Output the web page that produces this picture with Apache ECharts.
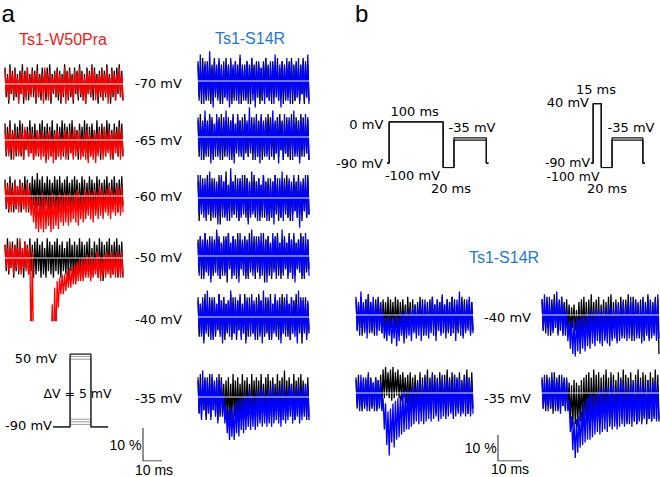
<!DOCTYPE html>
<html><head><meta charset="utf-8">
<script src="https://cdn.jsdelivr.net/npm/echarts/dist/echarts.min.js"></script>
<style>html,body{margin:0;padding:0;background:#fff}#c{width:660px;height:477px}</style>
</head><body><div id="c"></div>
<script>
// ---------- DATA (percent change, envelope of each noisy trace: upper / lower values per sample) ----------
const labelsA = ['-70 mV','-65 mV','-60 mV','-50 mV','-40 mV','-35 mV'];
const labelsB = ['-40 mV','-35 mV'];
const titleRed = 'Ts1-W50Pra';
const titleBlue = 'Ts1-S14R';
const baselineValue = 0;

// Panel a, left column (black / red)
const aL70_kHi=[5,3,6,4,5,3,4,6,4,5,3,5, 4,6,3,5,4,5,6,3,4,5,4,3, 6,4,5,3,5,4,6,4,3,5,4,6, 5,3,4,5,4,6,3,5,4,5,6,4];
const aL70_kLo=[-4,-6,-3,-5,-4,-5,-3,-6,-4,-5,-3,-4, -6,-4,-5,-3,-5,-4,-6,-3,-4,-5,-6,-4, -3,-5,-4,-6,-3,-5,-4,-5,-6,-3,-4,-5, -3,-6,-4,-5,-4,-3,-6,-4,-5,-3,-4,-5];
const aL70_cHi=[4,2,5,3,4,2,3,4,3,5,2,4, 3,4,2,3,5,3,4,2,3,4,3,2, 5,3,4,2,4,3,5,3,2,4,3,5, 4,2,3,4,3,5,2,4,3,3,5,3];
const aL70_cLo=[-3,-5,-2,-4,-3,-6,-3,-4,-5,-3,-4,-2, -5,-4,-3,-6,-3,-5,-4,-2,-4,-3,-5,-3, -6,-4,-3,-5,-2,-4,-3,-5,-6,-3,-4,-2, -5,-4,-3,-5,-3,-6,-4,-3,-5,-2,-4,-5];

const aL65_kHi=[5,4,6,3,5,4,6,5,3,4,6,4, 5,3,5,6,4,5,4,6,3,5,4,6, 5,4,5,6,4,3,5,4,6,5,4,5, 3,6,4,5,4,6,5,3,5,4,6,5];
const aL65_kLo=[-5,-4,-6,-3,-5,-4,-5,-6,-3,-5,-4,-6, -4,-5,-3,-5,-6,-4,-5,-4,-6,-5,-3,-5, -4,-6,-4,-5,-3,-6,-4,-5,-4,-6,-5,-3, -5,-4,-6,-4,-5,-3,-5,-6,-4,-5,-4,-5];
const aL65_cHi=[3,2,4,2,3,1,3,2,4,2,3,2, 1,3,2,3,1,2,3,1,2,3,2,1, 3,2,3,2,4,2,3,1,2,3,2,1, 3,2,3,2,4,2,3,2,3,2,4,3];
const aL65_cLo=[-4,-5,-3,-6,-4,-5,-4,-6,-3,-5,-4,-6, -5,-4,-6,-5,-7,-6,-5,-7,-6,-5,-6,-4, -6,-5,-4,-6,-5,-4,-6,-5,-6,-7,-5,-6, -7,-5,-4,-6,-5,-4,-6,-5,-4,-5,-6,-4];

const aL60_kHi=[5,4,6,4,5,3,5,4,6,5,4,6, 5,7,5,6,4,6,5,4,6,5,6,4, 5,6,4,5,6,5,4,6,5,4,6,5, 4,6,5,4,5,6,4,5,6,4,5,6];
const aL60_kLo=[-4,-5,-3,-5,-4,-3,-5,-4,-3,-5,-4,-3, -4,-3,-5,-4,-3,-4,-5,-3,-4,-5,-3,-4, -4,-3,-5,-4,-3,-5,-4,-3,-5,-4,-3,-4, -5,-3,-4,-5,-4,-3,-5,-4,-3,-5,-4,-3];
const aL60_cHi=[4,3,4,2,4,3,4,3,2,4,2,0, -1,0,-1,1,0,-1,0,1,0,-1,1,0, 1,0,1,0,1,2,1,0,2,1,2,1, 2,1,3,2,1,2,3,2,1,3,2,3];
const aL60_cLo=[-3,-4,-5,-3,-4,-5,-3,-4,-5,-4,-6,-8, -10,-11,-10,-11,-10,-9,-11,-10,-9,-10,-8,-9, -8,-9,-8,-7,-8,-9,-7,-8,-7,-6,-7,-8, -6,-7,-6,-7,-5,-6,-7,-5,-6,-5,-6,-5];

const aL50_kHi=[4,6,3,5,4,6,5,3,5,4,6,4, 5,6,4,5,3,6,5,4,5,6,4,5, 3,5,6,4,5,4,6,5,4,5,6,3, 5,4,6,5,4,5,6,4,5,6,4,5];
const aL50_kLo=[-4,-5,-3,-6,-4,-5,-4,-6,-3,-5,-4,-6, -5,-4,-6,-5,-6,-4,-5,-6,-4,-5,-6,-4, -5,-6,-4,-5,-7,-5,-4,-6,-5,-4,-6,-5, -4,-6,-5,-7,-5,-4,-6,-5,-4,-6,-5,-6];
const aL50_cHi=[4,3,5,3,4,3,6,3,5,3,4,2, -25,-25,-25,-25,-25,-25,-25,-14,-9,-7,-6,-5, -5,-4,-3,-3,-2,-1,-1,0,0,1,0,1, 0,2,1,0,1,2,1,2,1,2,1,2];
const aL50_cLo=[-3,-4,-3,-5,-3,-4,-5,-3,-4,-5,-30,-30, -30,-30,-30,-30,-30,-30,-30,-30,-25,-15,-11,-11, -10,-9,-9,-8,-8,-7,-7,-7,-6,-6,-7,-6, -5,-6,-7,-5,-6,-5,-6,-5,-6,-5,-6,-5];

// Panel a, right column (black / blue)
const aR70_kHi=[6,4,7,5,6,4,5,7,4,6,5,4, 7,5,6,4,6,5,7,4,5,6,4,7, 5,6,5,4,6,7,5,4,6,5,7,4, 6,5,4,6,7,5,6,4,5,7,6,5];
const aR70_kLo=[-5,-7,-4,-6,-5,-7,-6,-4,-5,-7,-6,-5, -4,-6,-7,-5,-6,-4,-7,-5,-6,-5,-7,-4, -6,-5,-7,-6,-4,-5,-6,-7,-5,-4,-6,-5, -7,-6,-5,-4,-7,-6,-5,-6,-4,-7,-5,-6];
const aR70_cHi=[5,8,4,6,5,9,4,6,5,7,4,6, 5,4,7,5,6,4,8,5,4,6,5,7, 4,5,6,4,5,7,4,6,5,8,4,5, 6,4,7,5,6,4,5,7,4,6,5,8];
const aR70_cLo=[-6,-4,-7,-5,-6,-4,-8,-5,-6,-4,-7,-5, -6,-8,-4,-6,-5,-7,-4,-6,-5,-7,-4,-6, -8,-5,-4,-6,-7,-5,-6,-4,-7,-5,-6,-8, -4,-5,-6,-7,-4,-6,-5,-7,-4,-6,-5,-7];

const aR65_kHi=[5,7,4,6,5,7,6,4,5,6,7,5, 4,6,5,7,4,6,5,6,7,4,5,6, 4,7,5,6,4,5,7,6,4,5,6,7, 5,4,6,5,7,4,6,5,7,6,4,6];
const aR65_kLo=[-6,-4,-7,-5,-6,-5,-7,-4,-6,-5,-7,-6, -4,-5,-7,-6,-5,-4,-6,-7,-5,-6,-4,-7, -5,-6,-4,-7,-6,-5,-4,-6,-7,-5,-6,-4, -7,-5,-6,-7,-4,-6,-5,-7,-6,-4,-5,-7];
const aR65_cHi=[6,4,5,8,4,6,5,4,7,5,4,6, 8,4,5,6,4,7,5,4,6,5,9,4, 6,5,4,7,5,6,4,5,8,4,6,5, 4,7,4,6,5,8,4,5,6,4,7,5];
const aR65_cLo=[-4,-7,-5,-6,-4,-8,-5,-6,-4,-7,-5,-4, -6,-7,-5,-8,-4,-6,-5,-7,-4,-6,-5,-4, -7,-6,-8,-4,-5,-6,-7,-4,-6,-5,-8,-4, -7,-5,-6,-4,-7,-5,-6,-8,-4,-6,-5,-7];

const aR60_kHi=[7,5,6,4,7,5,6,5,4,7,6,5, 8,4,6,5,7,4,6,5,7,6,4,5, 7,5,6,4,7,5,6,4,5,7,6,4, 5,6,7,5,4,6,5,7,4,6,5,7];
const aR60_kLo=[-7,-5,-4,-6,-5,-7,-4,-6,-5,-8,-4,-6, -5,-7,-4,-5,-6,-7,-5,-4,-6,-7,-5,-4, -6,-5,-7,-4,-6,-5,-7,-6,-4,-5,-7,-6, -4,-5,-6,-7,-5,-4,-6,-5,-7,-4,-6,-5];
const aR60_cHi=[5,7,4,6,5,8,4,6,5,4,7,5, 6,4,9,5,4,6,5,7,4,6,5,8, 4,5,6,4,7,5,4,6,5,7,4,6, 8,5,4,6,5,7,4,6,5,4,7,6];
const aR60_cLo=[-5,-4,-6,-7,-5,-4,-6,-5,-8,-4,-6,-5, -7,-4,-6,-5,-4,-7,-6,-5,-4,-8,-6,-5, -4,-7,-5,-6,-4,-7,-5,-6,-8,-4,-5,-6, -7,-4,-6,-5,-7,-4,-6,-9,-5,-4,-6,-5];

const aR50_kHi=[5,6,4,7,5,6,4,5,7,6,4,5, 6,7,4,6,5,7,5,4,6,5,7,4, 6,5,6,4,7,5,6,4,5,6,7,4, 5,6,4,7,5,6,4,5,7,6,4,5];
const aR50_kLo=[-5,-7,-6,-4,-5,-7,-6,-5,-4,-7,-6,-5, -8,-4,-6,-5,-7,-6,-4,-5,-7,-6,-5,-4, -7,-5,-6,-4,-8,-5,-6,-7,-4,-5,-6,-7, -5,-4,-6,-5,-7,-6,-4,-5,-7,-6,-5,-4];
const aR50_cHi=[4,6,5,7,4,5,6,4,8,5,4,6, 5,7,4,6,5,4,7,5,6,4,5,8, 4,6,5,7,4,5,6,4,7,5,6,4, 8,5,4,6,5,7,4,5,6,4,7,5];
const aR50_cLo=[-6,-4,-7,-5,-6,-8,-4,-5,-6,-7,-4,-6, -5,-4,-7,-6,-5,-8,-4,-6,-5,-7,-4,-6, -5,-4,-7,-6,-5,-8,-4,-6,-5,-7,-4,-5, -6,-4,-7,-5,-6,-8,-4,-5,-6,-7,-4,-6];

const aR40_kHi=[6,4,5,7,4,6,5,6,4,7,5,6, 4,5,7,6,4,5,6,4,7,5,6,5, 4,6,7,5,4,6,5,7,4,6,5,4, 7,6,5,4,6,5,7,4,6,5,6,4];
const aR40_kLo=[-6,-5,-7,-4,-6,-5,-7,-6,-4,-5,-6,-7, -5,-4,-6,-5,-7,-4,-6,-5,-7,-6,-4,-5, -6,-7,-5,-4,-6,-5,-7,-6,-4,-5,-7,-6, -5,-4,-6,-7,-5,-4,-6,-5,-8,-4,-6,-5];
const aR40_cHi=[5,4,6,5,8,4,6,5,4,7,5,6, 4,5,8,4,6,5,7,4,5,6,4,7, 5,4,6,5,8,4,6,5,4,7,5,6, 4,5,7,4,6,5,4,8,5,6,4,5];
const aR40_cLo=[-4,-6,-8,-5,-4,-7,-6,-5,-4,-6,-8,-5, -4,-6,-7,-5,-6,-4,-7,-5,-8,-4,-6,-5, -7,-4,-6,-8,-5,-4,-6,-7,-5,-6,-4,-8, -5,-6,-4,-7,-5,-6,-8,-4,-6,-5,-7,-4];

const aR35_kHi=[5,7,4,6,5,7,6,4,5,7,6,4, 5,6,4,7,5,6,4,7,5,6,4,7, 5,6,5,7,4,6,7,5,6,4,7,5, 6,8,5,6,4,7,5,6,7,5,4,6];
const aR35_kLo=[-5,-6,-4,-7,-5,-6,-4,-5,-7,-6,-5,-6, -7,-8,-7,-6,-7,-6,-5,-7,-6,-5,-7,-6, -5,-6,-7,-5,-6,-5,-7,-6,-5,-4,-6,-5, -7,-6,-5,-4,-6,-7,-5,-6,-4,-5,-6,-7];
const aR35_cHi=[6,4,8,5,6,4,7,5,6,4,5,1, -3,-4,-3,-4,-2,-1,0,-1,1,0,2,1, 0,2,1,3,2,1,3,2,4,1,3,2, 4,3,1,3,4,2,3,4,2,3,4,3];
const aR35_cLo=[-5,-7,-4,-6,-5,-7,-4,-6,-8,-5,-6,-8, -11,-13,-12,-13,-11,-12,-10,-11,-10,-9,-10,-9, -10,-9,-8,-9,-8,-9,-8,-9,-8,-7,-8,-9, -7,-8,-7,-6,-8,-7,-6,-8,-7,-6,-7,-6];

// Panel b (black / blue)
const b40L_kHi=[6,4,7,5,6,8,5,4,6,7,5,6, 5,7,6,5,7,6,5,6,4,7,5,6, 4,5,7,6,4,5,6,7,4,6,5,7, 4,6,5,7,6,4,5,7,6,4,6,5];
const b40L_kLo=[-6,-5,-8,-6,-5,-7,-6,-8,-5,-6,-7,-5, -6,-7,-5,-6,-5,-7,-6,-5,-7,-5,-8,-6, -7,-5,-6,-8,-5,-7,-6,-5,-8,-6,-7,-5, -6,-7,-8,-5,-6,-7,-5,-8,-6,-5,-7,-6];
const b40L_cHi=[7,5,9,4,6,8,5,7,4,6,5,1, -2,0,-1,-2,0,-1,1,0,2,1,3,2, 4,3,5,4,6,3,5,7,4,6,5,8, 4,6,5,7,4,6,9,5,4,6,7,5];
const b40L_cLo=[-6,-8,-5,-7,-9,-6,-7,-5,-8,-6,-7,-9, -10,-8,-11,-9,-12,-10,-8,-11,-9,-8,-10,-7, -9,-8,-10,-7,-8,-9,-7,-8,-10,-6,-8,-7, -9,-6,-8,-7,-10,-6,-8,-9,-7,-6,-8,-7];

const b40R_kHi=[6,5,7,4,6,8,5,6,7,5,6,4, 3,4,2,5,6,7,5,6,8,5,6,7, 4,6,5,7,8,5,6,4,7,5,6,8, 5,7,6,4,6,7,5,8,6,5,7,6];
const b40R_kLo=[-6,-7,-5,-8,-6,-5,-7,-6,-8,-5,-6,-7, -5,-6,-7,-8,-6,-7,-9,-8,-7,-9,-8,-10, -7,-9,-8,-7,-9,-8,-10,-7,-8,-9,-7,-8, -10,-8,-7,-9,-8,-10,-7,-9,-8,-7,-9,-15];
const b40R_cHi=[6,8,5,7,4,6,9,5,7,4,2,-3, -2,-3,-1,-2,0,-1,1,0,2,1,3,2, 1,3,2,4,3,2,4,5,3,6,4,5, 7,4,6,5,3,6,4,7,5,4,6,8];
const b40R_cLo=[-6,-5,-8,-6,-7,-5,-8,-6,-7,-8,-10,-13, -15,-16,-14,-15,-13,-14,-12,-13,-11,-12,-10,-11, -12,-10,-11,-12,-10,-9,-11,-10,-9,-8,-10,-9, -8,-10,-9,-8,-11,-9,-8,-10,-9,-8,-10,-9];

const b35L_kHi=[5,7,4,6,5,7,6,4,6,5,7,9, 10,8,9,10,8,9,7,8,6,7,8,6, 7,5,8,6,7,9,6,8,7,5,8,6, 7,9,6,8,7,6,8,5,7,9,6,8];
const b35L_kLo=[-6,-5,-7,-6,-5,-7,-6,-5,-7,-6,-5,-2, -1,-2,-3,-2,-1,-2,-3,-2,-4,-5,-6,-7, -6,-7,-8,-7,-6,-8,-7,-6,-8,-7,-6,-7, -8,-6,-7,-8,-6,-7,-8,-7,-6,-8,-7,-6];
const b35L_cHi=[6,4,7,5,6,8,5,4,6,5,4,-2, -4,-7,-6,-4,-3,-2,-1,1,0,2,1,3, 2,4,5,3,6,4,5,7,4,6,5,7, 4,6,5,4,7,5,6,4,7,5,6,4];
const b35L_cLo=[-5,-7,-6,-5,-7,-6,-5,-7,-6,-5,-7,-14, -20,-24,-19,-21,-18,-17,-16,-15,-14,-14,-13,-12, -11,-12,-11,-12,-11,-10,-11,-10,-9,-11,-10,-9, -10,-9,-8,-10,-9,-8,-9,-8,-9,-8,-9,-8];

const b35R_kHi=[6,4,7,5,6,8,5,7,4,6,5,4, 3,5,4,3,5,6,7,8,6,9,7,8, 6,7,9,6,8,7,5,8,6,9,7,6, 8,5,7,9,6,8,7,5,8,6,9,7];
const b35R_kLo=[-6,-7,-5,-6,-8,-5,-7,-6,-5,-7,-6,-10, -13,-12,-13,-11,-12,-9,-10,-11,-9,-10,-11,-12, -10,-11,-9,-12,-10,-11,-12,-9,-10,-11,-12,-10, -9,-11,-12,-10,-11,-9,-12,-10,-11,-9,-10,-11];
const b35R_cHi=[5,7,4,6,8,5,6,4,7,5,6,-3, -9,-11,-10,-9,-7,-4,-2,-1,0,-1,1,0, 2,1,3,2,4,3,2,4,5,3,4,2, 5,3,4,5,3,4,2,5,3,4,5,3];
const b35R_cLo=[-6,-5,-7,-6,-5,-7,-6,-8,-5,-6,-7,-15, -22,-25,-23,-21,-20,-19,-18,-18,-17,-16,-15,-16, -15,-14,-15,-13,-14,-13,-14,-13,-12,-13,-11,-12, -13,-11,-12,-11,-12,-10,-11,-10,-11,-10,-11,-10];

// Voltage protocols (ms, mV)
const protoA_times = [0, 9, 20, 29];
const protoA_hold = -90;
const protoA_levels = [-85, -80, -75, 40, 45, 50];
const protoB1_times = [0, 4, 104, 124, 184, 188];
const protoB1_volts = [-90, 0, -100];
const protoB2_times = [0, 4, 19, 39, 96, 100];
const protoB2_volts = [-90, 40, -100];
const protoB_tests = [-40, -35];
const scaleBar = {pct: 10, ms: 10};

// ---------- LAYOUT ----------
const RED = '#ff0000', BLUE = '#0000ff';
const LA = {ppu: 3.3, ymin: -19, ymax: 12};
const LB = {ppu: 2.6, ymin: -26, ymax: 12};
const traces = [
  [aL70_kHi,aL70_kLo,aL70_cHi,aL70_cLo,RED,5,118,84,LA],
  [aL65_kHi,aL65_kLo,aL65_cHi,aL65_cLo,RED,5,118,140,LA],
  [aL60_kHi,aL60_kLo,aL60_cHi,aL60_cLo,RED,5,118,196,LA],
  [aL50_kHi,aL50_kLo,aL50_cHi,aL50_cLo,RED,5,118,258,LA],
  [aR70_kHi,aR70_kLo,aR70_cHi,aR70_cLo,BLUE,198,111,81,LA],
  [aR65_kHi,aR65_kLo,aR65_cHi,aR65_cLo,BLUE,198,111,137,LA],
  [aR60_kHi,aR60_kLo,aR60_cHi,aR60_cLo,BLUE,198,111,198,LA],
  [aR50_kHi,aR50_kLo,aR50_cHi,aR50_cLo,BLUE,198,111,256,LA],
  [aR40_kHi,aR40_kLo,aR40_cHi,aR40_cLo,BLUE,198,111,317,LA],
  [aR35_kHi,aR35_kLo,aR35_cHi,aR35_cLo,BLUE,198,111,397,LA],
  [b40L_kHi,b40L_kLo,b40L_cHi,b40L_cLo,BLUE,356,117,315,LB],
  [b40R_kHi,b40R_kLo,b40R_cHi,b40R_cLo,BLUE,542,117,315,LB],
  [b35L_kHi,b35L_kLo,b35L_cHi,b35L_cLo,BLUE,356,117,393,LB],
  [b35R_kHi,b35R_kLo,b35R_cHi,b35R_cLo,BLUE,542,117,393,LB]
];

function zig(hi, lo){ const d=[]; for(let i=0;i<hi.length;i++){ d.push([i,hi[i]]); d.push([i+0.5,lo[i]]); } return d; }

const grids=[], xAxes=[], yAxes=[], series=[];
function addGrid(g, xr, yr){
  grids.push(g);
  const idx = grids.length-1;
  xAxes.push({type:'value', gridIndex:idx, min:xr[0], max:xr[1], show:false});
  yAxes.push({type:'value', gridIndex:idx, min:yr[0], max:yr[1], show:false});
  return idx;
}
function line(idx, data, color, width, extra){
  series.push(Object.assign({type:'line', xAxisIndex:idx, yAxisIndex:idx, data, symbol:'none', silent:true,
    lineStyle:{color, width}, animation:false}, extra||{}));
}

const TRACE_W = 1.3;
traces.forEach(t=>{
  const [kHi,kLo,cHi,cLo,col,left,width,base,L]=t;
  const n = kHi.length - 0.5;
  const idx = addGrid({left, width, top: base - L.ymax*L.ppu, height:(L.ymax-L.ymin)*L.ppu}, [0,n], [L.ymin,L.ymax]);
  line(idx, zig(kHi,kLo), '#000', TRACE_W, {lineStyle:{color:'#000', width:TRACE_W, join:'bevel'}});
  line(idx, zig(cHi,cLo), col, TRACE_W, {lineStyle:{color:col, width:TRACE_W, join:'bevel'}});
  line(idx, [[0,baselineValue],[n,baselineValue]], '#ffffff', 1.2, {lineStyle:{color:'#ffffff', width:1.2, opacity:0.9}});
});

// protocol panel a
{
  const idx = addGrid({left:53, top:354, width:55, height:73}, [protoA_times[0], protoA_times[3]], [-90, 50]);
  const T = protoA_times, h = protoA_hold;
  protoA_levels.forEach((v,i)=>{
    const top = v === 50;
    line(idx, [[T[0],h],[T[1],h],[T[1],v],[T[2],v],[T[2],h],[T[3],h]], top ? '#222' : '#9a9a9a', top ? 1.3 : 1, {z: top ? 3 : 2});
  });
}
// protocols panel b
function protoB(times, volts, left, width){
  const idx = addGrid({left, top:103.7, width, height:63.9}, [times[0], times[5]], [-100, 40]);
  protoB_tests.forEach(v=>{
    line(idx, [[times[0],volts[0]],[times[1],volts[0]],[times[1],volts[1]],[times[2],volts[1]],[times[2],volts[2]],
      [times[3],volts[2]],[times[3],v],[times[4],v],[times[4],volts[0]],[times[5],volts[0]]], '#111', 1.3);
  });
}
protoB(protoB1_times, protoB1_volts, 387, 101.5);
protoB(protoB2_times, protoB2_volts, 591, 54);

// scale bars
function bar(left, top, w, h){
  const idx = addGrid({left, top, width:w, height:h}, [0, scaleBar.ms], [0, scaleBar.pct]);
  line(idx, [[0,scaleBar.pct],[0,0],[scaleBar.ms,0]], '#222', 1);
}
bar(143, 428, 19, 33);
bar(498, 435, 24, 26);

// ---------- TEXT ----------
function txt(text, x, y, size, family, color, align){
  return {type:'text', silent:true, z:10, style:{text, x, y, fill:color||'#000',
    font: size+'px "'+family+'"', fontSize:size, fontFamily:family,
    align:align||'left', textAlign:align||'left', verticalAlign:'middle', textVerticalAlign:'middle'}};
}
const LS='Liberation Sans', DV='DejaVu Sans';
const graphic = [
  txt('a', 1.5, 13.4, 24, LS),
  txt('b', 355, 13.4, 24, LS),
  txt(titleRed, 63, 39.5, 16, LS, '#ee1c1c', 'center'),
  txt(titleBlue, 250, 38.5, 16, LS, '#1f78c8', 'center'),
  txt(titleBlue, 504, 257.5, 16, LS, '#1f78c8', 'center'),
  txt(labelsA[0], 135, 83.5, 13, DV),
  txt(labelsA[1], 135, 140.5, 13, DV),
  txt(labelsA[2], 135, 196.2, 13, DV),
  txt(labelsA[3], 135, 257.2, 13, DV),
  txt(labelsA[4], 135, 319.5, 13, DV),
  txt(labelsA[5], 135, 398.2, 13, DV),
  txt(labelsB[0], 507.5, 317.2, 13, DV, '#000', 'center'),
  txt(labelsB[1], 507.5, 398.2, 13, DV, '#000', 'center'),
  txt('50 mV', 57, 358.8, 13, DV, '#000', 'right'),
  txt('-90 mV', 52, 425.5, 13, DV, '#000', 'right'),
  txt('\u0394V = 5 mV', 77.5, 393, 12.5, DV, '#000', 'center'),
  txt('0 mV', 383.3, 124.5, 13, DV, '#000', 'right'),
  txt('100 ms', 414.7, 111.2, 13, DV, '#000', 'center'),
  txt('-35 mV', 472, 127.8, 13, DV, '#000', 'center'),
  txt('-90 mV', 383, 163.2, 13, DV, '#000', 'right'),
  txt('-100 mV', 412.5, 175.5, 13, DV, '#000', 'center'),
  txt('20 ms', 451, 188.2, 13, DV, '#000', 'center'),
  txt('15 ms', 596, 89.5, 13, DV, '#000', 'center'),
  txt('40 mV', 589, 102.2, 13, DV, '#000', 'right'),
  txt('-35 mV', 631, 127.8, 13, DV, '#000', 'center'),
  txt('-90 mV', 590, 162, 12.5, DV, '#000', 'right'),
  txt('-100 mV', 573, 176.6, 12.5, DV, '#000', 'center'),
  txt('20 ms', 607, 188.5, 13, DV, '#000', 'center'),
  txt(scaleBar.pct+' %', 141.5, 445.2, 14, LS, '#000', 'right'),
  txt(scaleBar.ms+' ms', 154, 469.5, 14, LS, '#000', 'center'),
  txt(scaleBar.pct+' %', 496.7, 447.9, 14, LS, '#000', 'right'),
  txt(scaleBar.ms+' ms', 510, 469.2, 14, LS, '#000', 'center')
];

const chart = echarts.init(document.getElementById('c'), null, {renderer:'svg', width:660, height:477});
chart.setOption({animation:false, backgroundColor:'#fff', grid:grids, xAxis:xAxes, yAxis:yAxes, series, graphic});
</script></body></html>
